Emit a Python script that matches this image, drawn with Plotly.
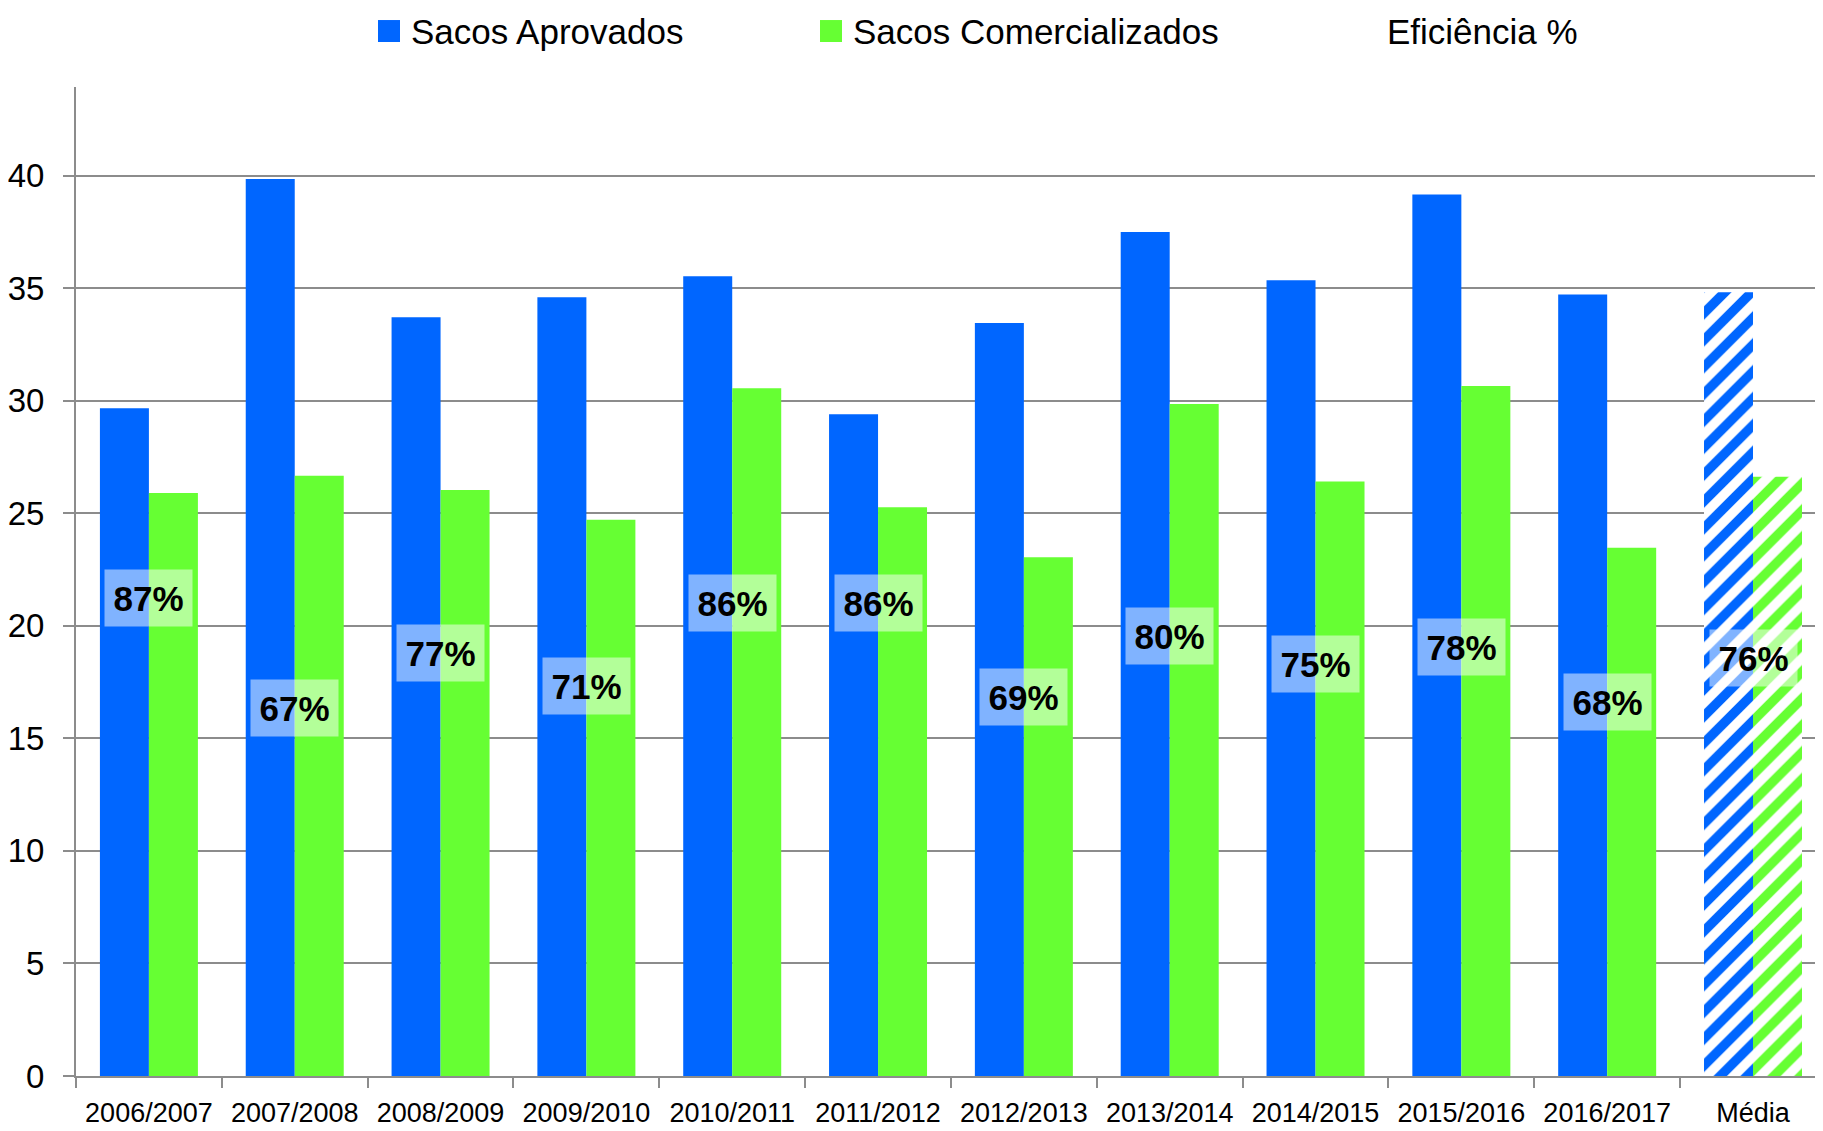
import plotly.graph_objects as go

categorias = ["2006/2007", "2007/2008", "2008/2009", "2009/2010", "2010/2011", "2011/2012",
              "2012/2013", "2013/2014", "2014/2015", "2015/2016", "2016/2017", "Média"]
sacos_aprovados = [29.67, 39.85, 33.71, 34.60, 35.53, 29.40, 33.45, 37.50, 35.35, 39.16, 34.72, 34.82]
sacos_comercializados = [25.90, 26.67, 26.03, 24.71, 30.56, 25.27, 23.05, 29.86, 26.41, 30.66, 23.47, 26.62]
eficiencia_pct = [87, 67, 77, 71, 86, 86, 69, 80, 75, 78, 68, 76]
y_ticks = [0, 5, 10, 15, 20, 25, 30, 35, 40]

AZUL = "#0066FF"
VERDE = "#66FF33"
FONT = "Liberation Sans, Arial, sans-serif"

OFF = 8  # default page body margin
W, H = 1823 - OFF, 1131 - OFF
ML, MR, MT = 76 - OFF, 0, 87 - OFF
MB = OFF + H - 1076.5

padroes = ["/" if c == "Média" else "" for c in categorias]

fig = go.Figure()
fig.add_trace(go.Bar(
    x=categorias, y=sacos_aprovados, name="Sacos Aprovados",
    marker=dict(color=AZUL, line=dict(width=0),
                pattern=dict(shape=padroes, fgcolor=AZUL, bgcolor="white", fgopacity=1,
                             size=19, solidity=0.5)),
    showlegend=False,
))
fig.add_trace(go.Bar(
    x=categorias, y=sacos_comercializados, name="Sacos Comercializados",
    marker=dict(color=VERDE, line=dict(width=0),
                pattern=dict(shape=padroes, fgcolor=VERDE, bgcolor="white", fgopacity=1,
                             size=19, solidity=0.5)),
    showlegend=False,
))
fig.add_trace(go.Scatter(
    x=categorias, y=eficiencia_pct, name="Eficiência %", yaxis="y2",
    mode="markers", marker=dict(size=1, opacity=0), showlegend=False,
))

for c, e in zip(categorias, eficiencia_pct):
    fig.add_annotation(
        x=c, y=e, xref="x", yref="y2", text=f"<b>{e}%</b>", showarrow=False,
        width=87, height=56, bgcolor="rgba(255,255,255,0.5)", borderpad=0,
        font=dict(family=FONT, size=35, color="black"),
    )

# legend (manual, to match marker size and spacing); positions in page pixels
plot_w = W - ML - MR
plot_h = H - MT - MB
def px_x(p):
    return (p - OFF - ML) / plot_w
def px_y(p):
    return 1 + (MT + OFF - p) / plot_h

legend_items = [("Sacos Aprovados", AZUL, 378, 409),
                ("Sacos Comercializados", VERDE, 820, 851),
                ("Eficiência %", None, None, 1385)]
for nome, cor, mx, tx in legend_items:
    if cor:
        fig.add_shape(type="rect", xref="paper", yref="paper",
                      x0=px_x(mx), x1=px_x(mx + 22), y0=px_y(42), y1=px_y(20),
                      fillcolor=cor, line=dict(width=0))
    fig.add_annotation(xref="paper", yref="paper", x=px_x(tx), y=px_y(31),
                       xanchor="left", yanchor="middle", text=nome, showarrow=False,
                       font=dict(family=FONT, size=35, color="black"))

fig.update_layout(
    width=W, height=H, autosize=False,
    margin=dict(l=ML, r=MR, t=MT, b=MB, pad=0),
    paper_bgcolor="white", plot_bgcolor="white",
    barmode="group", bargap=0.328, bargroupgap=0,
    font=dict(family=FONT, color="black"),
    xaxis=dict(type="category", range=[-0.5, 11.48], showgrid=False, showline=True,
               linecolor="#8c8c8c", linewidth=2, automargin=False, tickangle=0,
               ticks="outside", tickson="boundaries", ticklen=10, tickcolor="#8c8c8c", tickwidth=2,
               tickfont=dict(family=FONT, size=27, color="black"), ticklabelstandoff=12),
    yaxis=dict(range=[0, 43.94], tickvals=y_ticks, showgrid=True, gridcolor="#8c8c8c", gridwidth=2,
               showline=True, linecolor="#8c8c8c", linewidth=2, zeroline=False, automargin=False,
               ticks="outside", ticklen=11, tickcolor="#8c8c8c", tickwidth=2,
               tickfont=dict(family=FONT, size=33, color="black"), ticklabelstandoff=12),
    yaxis2=dict(range=[0, 180], overlaying="y", visible=False, automargin=False),
)

fig.write_html("out.html")
